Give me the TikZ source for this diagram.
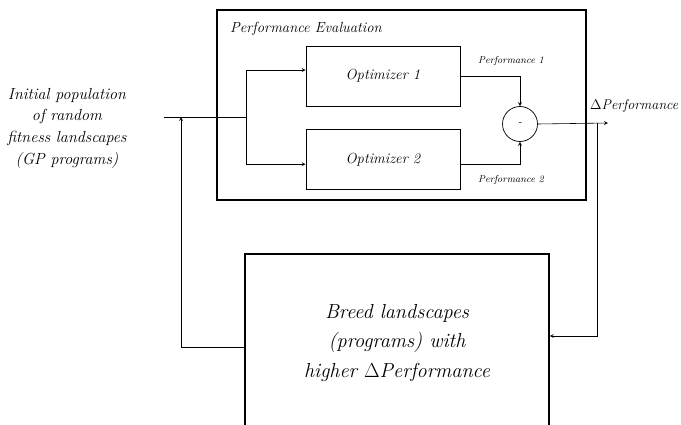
\documentclass[tikz,border=0pt]{standalone}
\usepackage{amsmath,amssymb}
\usepackage{xcolor}
\usepackage{tikz}
\usetikzlibrary{positioning}
\tikzstyle{outerbox} = [rectangle, draw=black, line width=1.3pt]
\tikzstyle{process} = [rectangle, minimum width=4.62cm, minimum height=1.8cm, text centered, draw=black, line width=0.7pt, font=\fontsize{12.5}{14}\selectfont\itshape]
\tikzstyle{diffop} = [circle, minimum size=1.05cm, draw=black, line width=0.6pt, font=\itshape]
\tikzstyle{lbl} = [font=\fontsize{8.5}{10}\selectfont\itshape]
\tikzstyle{arrow} = [line width=0.5pt,->,>=stealth]
\tikzstyle{wire} = [line width=0.5pt]

\begin{document}
\begin{tikzpicture}[x=0.03cm, y=-0.03cm, node distance=2.5cm]
    \useasboundingbox (0,0) rectangle (681,424);
    \node (eval) [outerbox, minimum width=11.07cm, minimum height=5.7cm] at (401.5,105) {};
    \node (evallbl) [anchor=west, font=\fontsize{12.5}{14}\selectfont\itshape] at (226,29) {Performance Evaluation};
    \node (opt1) [process] at (383,76) {Optimizer 1};
    \node (opt2) [process, below of=opt1, yshift=-0.01cm] {Optimizer 2};
    \node (diff) [diffop] at (520,124) {-};
    \node (perf1) [lbl] at (511,61) {Performance 1};
    \node (perf2) [lbl] at (511,180) {Performance 2};
    \node (init) [align=center, font=\fontsize{13.7}{18.5}\selectfont\itshape] at (67,128) {Initial population\\of random\\fitness landscapes\\(GP programs)};
    \node (delta) [anchor=west, inner sep=0pt, font=\fontsize{12}{14}\selectfont] at (590,106) {$\Delta$\textit{Performance}};
    \node (breed) [outerbox, minimum width=9.12cm, minimum height=5.58cm] at (397,347) {};
    \node (breedtxt) [align=center, font=\fontsize{17.3}{25}\selectfont\itshape] at (397,343) {Breed landscapes\\(programs) with\\higher $\Delta$Performance};
    \coordinate (start) at (164,117);
    \coordinate (split) at (246,117);
    \coordinate (fb) at (181,117);
    \coordinate (out) at (608,123);
    \coordinate (tap) at (597,123);
    \draw [wire] (start) -- (split);
    \draw [arrow] (split) |- ([yshift=0.18cm]opt1.west);
    \draw [arrow] (split) |- ([yshift=-0.135cm]opt2.west);
    \draw [arrow] (opt1.east) -| (diff.north);
    \draw [arrow] ([yshift=-0.135cm]opt2.east) -| (diff.south);
    \draw [arrow] (diff.east) -- (out);
    \draw [arrow] (tap) |- ([yshift=0.33cm]breed.east);
    \draw [arrow] (breed.west) -| (fb);
    \end{tikzpicture}
\end{document}
